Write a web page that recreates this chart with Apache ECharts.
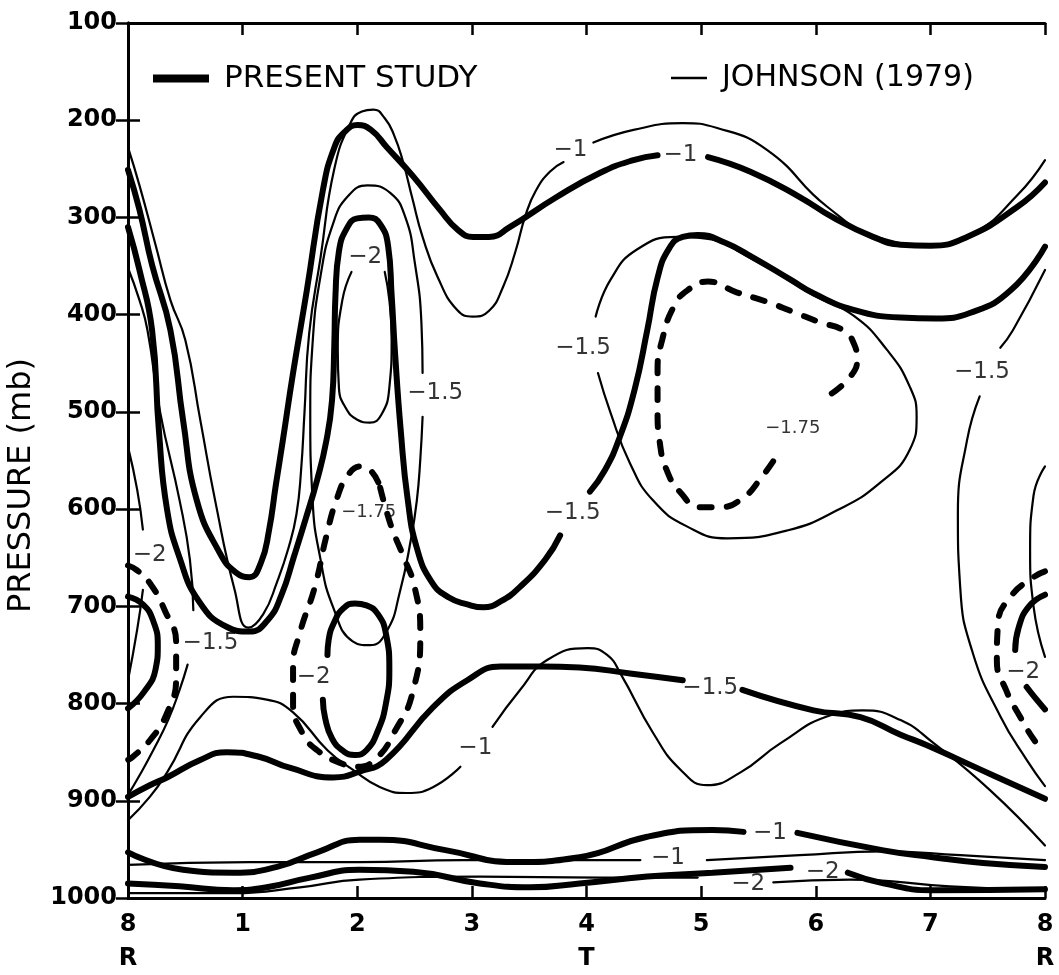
<!DOCTYPE html>
<html>
<head>
<meta charset="utf-8">
<script src="https://cdn.jsdelivr.net/npm/echarts@6/dist/echarts.min.js"></script>
<style>
  html, body { margin: 0; padding: 0; background: #fff; }
  #chart { width: 1059px; height: 975px; }
</style>
</head>
<body>
<div id="chart"></div>
<script>
// Axis ticks: longitude position (8 = R ... 4 = T ... 8 = R) and pressure levels
const xTickLabels = ['8', '1', '2', '3', '4', '5', '6', '7', '8'];
const xSubLabels = ['R', '', '', '', 'T', '', '', '', 'R'];
const pressureTicks = [100, 200, 300, 400, 500, 600, 700, 800, 900, 1000];

// ---- Present study: heavy solid contours, each a list of [position, pressure] segments ----
const presentUpperM1 = [
  [[0, 251], [0.10, 292], [0.21, 349], [0.37, 416], [0.48, 508], [0.60, 591], [0.80, 645], [0.94, 665], [1.06, 670], [1.16, 655], [1.23, 622], [1.29, 575], [1.35, 530], [1.44, 460], [1.56, 375], [1.70, 272], [1.80, 228], [1.89, 212], [2.00, 205], [2.12, 210], [2.26, 228], [2.49, 258], [2.72, 292], [2.88, 313], [3.01, 320], [3.15, 320], [3.33, 310], [3.74, 279], [4.12, 254], [4.41, 241], [4.62, 236]],
  [[5.06, 238], [5.43, 253], [5.86, 279], [6.15, 300], [6.50, 320], [6.74, 328], [7.00, 329], [7.32, 320], [7.76, 289], [8.0, 264]]
];
const presentMidM15 = [
  [[0, 310], [0.10, 354], [0.21, 416], [0.27, 520], [0.34, 600], [0.45, 650], [0.62, 695], [0.86, 721], [1.06, 726], [1.22, 714], [1.34, 688], [1.45, 648], [1.55, 610], [1.65, 570], [1.73, 530], [1.78, 488], [1.80, 430], [1.81, 380], [1.84, 335], [1.91, 311], [2.00, 301], [2.10, 300], [2.20, 307], [2.27, 330], [2.30, 380], [2.33, 440], [2.38, 520], [2.44, 590], [2.52, 640], [2.65, 675], [2.80, 691], [2.96, 698], [3.10, 701], [3.25, 695], [3.42, 680], [3.64, 652], [3.77, 627]],
  [[4.03, 582], [4.16, 560], [4.29, 526], [4.42, 477], [4.53, 416], [4.62, 362], [4.72, 332], [4.84, 320], [4.97, 318], [5.21, 326], [5.45, 341], [5.78, 364], [5.98, 378], [6.33, 395], [6.74, 403], [7.05, 404], [7.35, 398], [7.70, 375], [8.0, 330]]
];
const presentLowM15 = [
  [[0, 896], [0.19, 884], [0.34, 876], [0.63, 858], [0.86, 850], [1.15, 855], [1.41, 866], [1.79, 876], [2.02, 870], [2.25, 858], [2.66, 804], [2.96, 776], [3.25, 762], [3.60, 762], [3.94, 763], [4.38, 769], [4.84, 776]],
  [[5.36, 786], [5.98, 807], [6.39, 814], [6.74, 832], [6.97, 843], [7.55, 874], [8.0, 898]]
];
const presentLoopM2Mid = [
  [[1.70, 796], [1.72, 815], [1.78, 836], [1.88, 849], [1.98, 853], [2.08, 848], [2.18, 828], [2.25, 800], [2.28, 765], [2.25, 728], [2.18, 708], [2.08, 699], [1.98, 697], [1.88, 702], [1.80, 716], [1.75, 735], [1.74, 750]]
];
const presentLoopM2West = [
  [[0, 690], [0.13, 698], [0.22, 715], [0.26, 740], [0.24, 765], [0.14, 788], [0, 805]]
];
const presentLoopM2East = [
  [[8, 688], [7.86, 700], [7.77, 722], [7.74, 745]],
  [[7.84, 783], [7.92, 795], [8, 806]]
];
const presentBottomM1 = [
  [[0, 953], [0.48, 971], [0.92, 974], [1.30, 968], [1.65, 953], [2.02, 940], [2.20, 940], [2.78, 951], [3.36, 963], [3.94, 958], [4.53, 937], [5.10, 930], [5.37, 932]],
  [[5.84, 933], [6.59, 951], [7.02, 958], [7.46, 964], [8, 968]]
];
const presentBottomM2 = [
  [[0, 985], [0.45, 988], [0.92, 992], [1.21, 989], [1.59, 979], [2.02, 971], [2.49, 973], [3.07, 985], [3.51, 989], [3.94, 985], [4.53, 978], [5.10, 974], [5.78, 969]],
  [[6.28, 974], [6.59, 985], [7.02, 992], [8, 991]]
];

// ---- Present study: heavy dashed -1.75 contours ----
const presentM175Mid = [
  [[2.20, 578], [2.25, 600], [2.31, 622], [2.40, 648], [2.50, 680], [2.55, 727], [2.48, 790], [2.33, 828], [2.17, 856], [2.00, 865], [1.85, 861], [1.65, 848], [1.52, 830], [1.44, 800], [1.44, 762], [1.50, 727], [1.63, 680], [1.73, 628], [1.82, 590], [1.92, 565], [2.03, 556], [2.13, 562], [2.20, 578]]
];
const presentM175East5 = [
  [[6.14, 481], [6.30, 464], [6.36, 447], [6.33, 429], [6.24, 416], [6.04, 408], [5.80, 397], [5.58, 387], [5.31, 377], [5.06, 366], [4.88, 375], [4.76, 392], [4.66, 426], [4.62, 457], [4.62, 498], [4.64, 532], [4.70, 560], [4.82, 583], [4.99, 598], [5.17, 598], [5.37, 588], [5.51, 570], [5.65, 547]]
];
const presentM175West = [
  [[0, 658], [0.08, 663], [0.19, 676], [0.32, 704], [0.42, 738], [0.42, 773], [0.34, 810], [0.19, 838], [0.04, 855], [0, 858]]
];
const presentM175East = [
  [[8, 664], [7.90, 670], [7.70, 690], [7.59, 718], [7.58, 756], [7.66, 786], [7.78, 813], [7.92, 840], [8, 850]]
];

// ---- Johnson (1979): thin contours ----
const johnsonUpperM1 = [
  [[0, 228], [0.10, 267], [0.24, 328], [0.37, 385], [0.50, 426], [0.63, 508], [0.76, 591], [0.93, 683], [1.05, 722], [1.18, 708], [1.30, 675], [1.40, 640], [1.47, 605], [1.51, 560], [1.54, 500], [1.58, 420], [1.68, 341], [1.80, 250], [1.94, 203], [2.04, 191], [2.14, 189], [2.24, 198], [2.32, 215], [2.40, 243], [2.48, 280], [2.57, 320], [2.70, 361], [2.87, 395], [3.01, 402], [3.15, 396], [3.27, 372], [3.38, 335], [3.47, 297], [3.56, 272], [3.68, 253], [3.80, 243]],
  [[4.06, 223], [4.41, 210], [4.84, 203], [5.14, 208], [5.58, 231], [6.10, 289], [6.56, 321], [7.00, 328], [7.39, 315], [7.76, 277], [8.0, 241]]
];
const johnsonLoopM15Mid = [
  [[2.57, 460], [2.56, 409], [2.50, 345], [2.42, 300], [2.29, 275], [2.09, 267], [1.92, 278], [1.79, 306], [1.68, 360], [1.61, 430], [1.59, 500], [1.61, 590], [1.68, 652], [1.79, 701], [1.96, 736], [2.11, 740], [2.26, 725], [2.37, 686], [2.47, 630], [2.52, 591], [2.55, 549], [2.57, 505]]
];
const johnsonLoopM2Mid = [
  [[2.24, 356], [2.28, 385], [2.30, 426], [2.28, 475], [2.21, 503], [2.11, 511], [2.00, 508], [1.90, 496], [1.84, 475], [1.83, 436], [1.87, 385], [1.95, 356]]
];
const johnsonLoopM15East5 = [
  [[4.10, 460], [4.21, 501], [4.38, 553], [4.58, 591], [4.88, 618], [5.23, 630], [5.75, 622], [6.19, 601], [6.56, 573], [6.82, 539], [6.88, 505], [6.82, 474], [6.62, 436], [6.33, 401], [5.98, 380], [5.45, 343], [4.99, 321], [4.79, 320], [4.44, 333], [4.21, 364], [4.08, 402]]
];
const johnsonM15West = [
  [[0, 352], [0.10, 385], [0.17, 416], [0.28, 500], [0.45, 591], [0.54, 652], [0.57, 704]],
  [[0.52, 760], [0.45, 786], [0.35, 817], [0.22, 848], [0.10, 874], [0, 894]]
];
const johnsonM15East = [
  [[8, 354], [7.72, 416], [7.61, 434]],
  [[7.43, 484], [7.32, 529], [7.24, 605], [7.26, 680], [7.37, 748], [7.61, 813], [7.84, 858], [8, 885]]
];
const johnsonM2West = [
  [[0, 536], [0.08, 580], [0.13, 621]],
  [[0.13, 683], [0.08, 724], [0, 776]]
];
const johnsonM2East = [
  [[8, 556], [7.90, 586], [7.87, 642], [7.90, 700], [8, 752]]
];
const johnsonLowM1 = [
  [[0, 920], [0.19, 896], [0.34, 871], [0.63, 814], [0.92, 793], [1.21, 796], [1.44, 809], [1.74, 848], [1.96, 868], [2.20, 886], [2.43, 892], [2.66, 886], [2.90, 865]],
  [[3.18, 824], [3.42, 786], [3.66, 755], [4.01, 743], [4.18, 750], [4.30, 770], [4.58, 830], [4.82, 868], [5.05, 884], [5.34, 871], [5.69, 841], [6.13, 812], [6.41, 807], [6.74, 817], [7.02, 840], [7.52, 889], [8, 946]]
];
const johnsonBottomM1 = [
  [[0, 966], [1.06, 963], [2.02, 963], [2.92, 961], [3.94, 961], [4.47, 961]],
  [[5.05, 961], [5.86, 956], [6.59, 952], [7.26, 956], [8, 961]]
];
const johnsonBottomM2 = [
  [[0, 995], [0.92, 995], [1.50, 989], [2.02, 981], [3.07, 978], [4.12, 979], [4.97, 979]],
  [[5.63, 984], [6.30, 981], [7.17, 988], [8, 992]]
];

// ---- Contour value labels: [text, position, pressure] ----
const contourLabels = [
  ['−1', 3.86, 231], ['−1', 4.82, 236], ['−2', 2.07, 341], ['−1.5', 2.68, 481],
  ['−1.5', 3.97, 434], ['−1.75', 5.80, 517], ['−1.5', 7.45, 459], ['−1.75', 2.10, 603],
  ['−1.5', 3.88, 604], ['−2', 0.19, 647], ['−1.5', 0.72, 738], ['−2', 1.62, 773],
  ['−1.5', 5.08, 784], ['−1', 3.03, 846], ['−2', 7.81, 768], ['−1', 5.60, 933],
  ['−1', 4.71, 959], ['−2', 6.06, 973], ['−2', 5.41, 986]
];

const PRESENT = 'PRESENT STUDY';
const JOHNSON = 'JOHNSON (1979)';

const heavySolid = [presentUpperM1, presentMidM15, presentLowM15, presentLoopM2Mid, presentLoopM2West, presentLoopM2East, presentBottomM1, presentBottomM2];
const heavyDashed = [presentM175Mid, presentM175East5, presentM175West, presentM175East];
const thinSolid = [johnsonUpperM1, johnsonLoopM15Mid, johnsonLoopM2Mid, johnsonLoopM15East5, johnsonM15West, johnsonM15East, johnsonM2West, johnsonM2East, johnsonLowM1, johnsonBottomM1, johnsonBottomM2];

const series = [];
function addContour(contour, name, lineStyle) {
  contour.forEach(seg => {
    series.push({
      type: 'line', name: name, data: seg, smooth: 0.5, showSymbol: false, symbol: 'none',
      color: '#000', lineStyle: Object.assign({ color: '#000' }, lineStyle),
      silent: true, animation: false, z: 3, emphasis: { disabled: true }
    });
  });
}
heavySolid.forEach(c => addContour(c, PRESENT, { width: 6, cap: 'round', join: 'round' }));
heavyDashed.forEach(c => addContour(c, PRESENT, { width: 6, type: [12, 15], cap: 'round' }));
thinSolid.forEach(c => addContour(c, JOHNSON, { width: 2.2, cap: 'round' }));

series.push({
  type: 'scatter', name: 'labels', symbolSize: 0, silent: true, animation: false, z: 5,
  data: contourLabels.map(l => ({ name: l[0], value: [l[1], l[2]] })),
  label: {
    show: true, position: 'inside', color: '#000',
    formatter: p => (p.name === '−1.75' ? '{s|' : '{n|') + p.name + '}',
    rich: {
      n: { fontSize: 23, fontFamily: 'DejaVu Sans', color: '#000' },
      s: { fontSize: 18, fontFamily: 'DejaVu Sans', color: '#000' }
    }
  }
});

const axisLineStyle = { show: true, lineStyle: { color: '#000', width: 3 } };
const tickStyle = { show: true, inside: true, length: 12, lineStyle: { color: '#000', width: 2.5 } };

const option = {
  backgroundColor: '#fff',
  animation: false,
  grid: { left: 128, right: 14, top: 23, bottom: 77, containLabel: false, outerBoundsMode: 'none' },
  legend: [
    {
      data: [{ name: PRESENT, icon: 'rect' }], left: 148, top: 58, itemWidth: 56, itemHeight: 8,
      selectedMode: false, textStyle: { fontSize: 31, fontFamily: 'DejaVu Sans', color: '#000', padding: [0, 0, 0, 10] }
    },
    {
      data: [{ name: JOHNSON, icon: 'rect' }], left: 666, top: 58, itemWidth: 36, itemHeight: 2.5,
      selectedMode: false, textStyle: { fontSize: 30, fontFamily: 'DejaVu Sans', color: '#000', padding: [0, 0, 0, 10] }
    }
  ],
  xAxis: [
    {
      type: 'value', min: 0, max: 8, interval: 1, position: 'bottom',
      axisLine: axisLineStyle, axisTick: tickStyle, splitLine: { show: false },
      axisLabel: {
        show: true, margin: 10, showMinLabel: true, showMaxLabel: true, color: '#000',
        formatter: v => {
          const i = Math.round(v);
          return '{n|' + xTickLabels[i] + '}\n{s|' + (xSubLabels[i] || ' ') + '}';
        },
        rich: {
          n: { fontSize: 24, fontWeight: 'bold', fontFamily: 'DejaVu Sans', lineHeight: 34, color: '#000' },
          s: { fontSize: 24, fontWeight: 'bold', fontFamily: 'DejaVu Sans', lineHeight: 34, color: '#000' }
        }
      }
    },
    {
      type: 'value', min: 0, max: 8, interval: 1, position: 'top',
      axisLine: axisLineStyle, axisTick: tickStyle, splitLine: { show: false }, axisLabel: { show: false }
    }
  ],
  yAxis: [
    {
      type: 'value', inverse: true, min: pressureTicks[0], max: pressureTicks[pressureTicks.length - 1], interval: 100,
      position: 'left', axisLine: axisLineStyle, axisTick: tickStyle, splitLine: { show: false },
      axisLabel: {
        show: true, margin: 11, color: '#000', fontSize: 24, fontWeight: 'bold', fontFamily: 'DejaVu Sans',
        showMinLabel: true, showMaxLabel: true, formatter: v => String(v)
      },
      name: 'PRESSURE (mb)', nameLocation: 'middle', nameGap: 90, nameRotate: 90,
      nameTextStyle: { fontSize: 32, fontFamily: 'DejaVu Sans', color: '#000', padding: [0, 50, 0, 0] }
    },
    {
      type: 'value', inverse: true, min: 100, max: 1000, interval: 100, position: 'right',
      axisLine: axisLineStyle, axisTick: tickStyle, splitLine: { show: false }, axisLabel: { show: false }
    }
  ],
  series: series
};

const chart = echarts.init(document.getElementById('chart'), null, { renderer: 'canvas' });
chart.setOption(option);
</script>
</body>
</html>
